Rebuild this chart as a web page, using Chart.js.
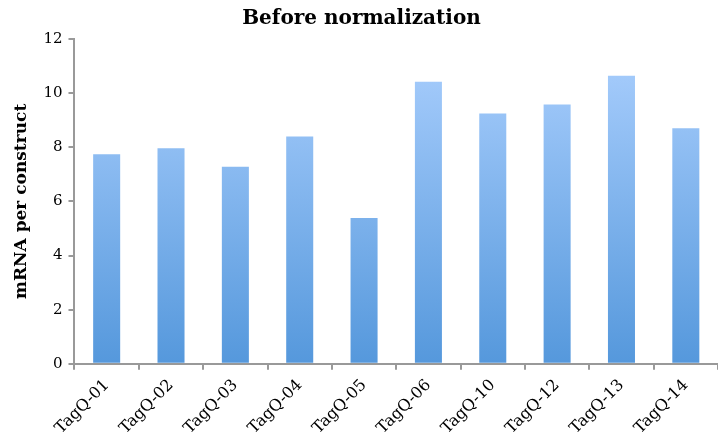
<!DOCTYPE html>
<html>
<head>
<meta charset="utf-8">
<script src="https://cdn.jsdelivr.net/npm/chart.js@4.4.1/dist/chart.umd.min.js"></script>
<style>
  html, body { margin: 0; padding: 0; background: #fff; }
  #wrap { width: 718px; height: 448px; }
</style>
</head>
<body>
<div id="wrap"><canvas id="chart"></canvas></div>
<script>
const categories = ['TagQ-01', 'TagQ-02', 'TagQ-03', 'TagQ-04', 'TagQ-05', 'TagQ-06', 'TagQ-10', 'TagQ-12', 'TagQ-13', 'TagQ-14'];
const mrnaValues = [7.74, 7.96, 7.28, 8.40, 5.39, 10.42, 9.25, 9.58, 10.64, 8.70];
const yTicks = [0, 2, 4, 6, 8, 10, 12];

const serif = "'DejaVu Serif', 'Liberation Serif', serif";

function barGradient(context) {
  const area = context.chart.chartArea;
  if (!area) return '#8ab8f0';
  const g = context.chart.ctx.createLinearGradient(0, area.top, 0, area.bottom);
  g.addColorStop(0, '#acd0fe');
  g.addColorStop(1, '#5598dc');
  return g;
}

new Chart(document.getElementById('chart'), {
  type: 'bar',
  data: {
    labels: categories,
    datasets: [{
      data: mrnaValues,
      backgroundColor: barGradient,
      borderWidth: 0,
      barPercentage: 0.84,
      categoryPercentage: 0.5
    }]
  },
  options: {
    responsive: true,
    maintainAspectRatio: false,
    animation: false,
    layout: { padding: { left: 5, right: 0, top: 0, bottom: 4 } },
    plugins: {
      legend: { display: false },
      tooltip: { enabled: false },
      title: {
        display: true,
        text: 'Before normalization',
        color: '#000',
        font: { family: serif, size: 20, weight: 'bold' },
        padding: { top: 7, bottom: 8 }
      }
    },
    scales: {
      x: {
        grid: { display: true, drawOnChartArea: false, tickLength: 6, color: '#999', lineWidth: 2 },
        border: { color: '#999', width: 2 },
        ticks: {
          color: '#000',
          maxRotation: 45,
          minRotation: 45,
          padding: 6,
          font: { family: serif, size: 16 }
        }
      },
      y: {
        min: 0,
        max: 12,
        afterBuildTicks: axis => { axis.ticks = yTicks.map(v => ({ value: v })); },
        grid: { display: true, drawOnChartArea: false, tickLength: 6, color: '#999', lineWidth: 2 },
        border: { color: '#999', width: 2 },
        ticks: {
          color: '#000',
          padding: 6,
          font: { family: serif, size: 15 }
        },
        title: {
          display: true,
          text: 'mRNA per construct',
          color: '#000',
          font: { family: serif, size: 17, weight: 'bold' },
          padding: { top: 6, bottom: 6 }
        }
      }
    }
  }
});
</script>
</body>
</html>
